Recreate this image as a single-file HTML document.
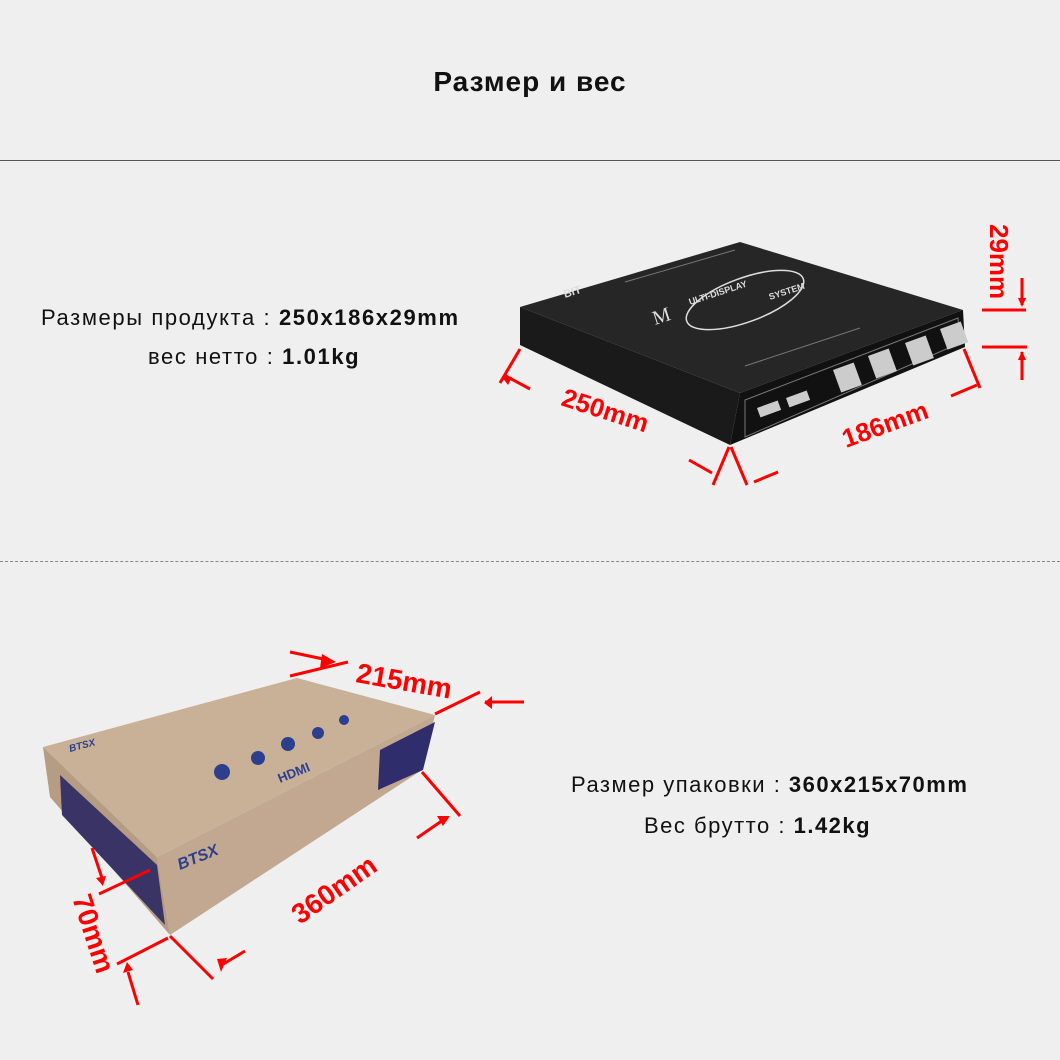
<!DOCTYPE html>
<html><head><meta charset="utf-8"><style>
html,body{margin:0;padding:0;background:#efefef;}
body{width:1060px;height:1060px;position:relative;overflow:hidden;font-family:"Liberation Sans",sans-serif;}
.t{position:absolute;white-space:nowrap;color:#111;}
</style></head><body>
<div class="t" style="left:0;width:1060px;text-align:center;top:66px;font-size:28px;font-weight:bold;letter-spacing:1px;">Размер и вес</div>
<div style="position:absolute;left:0;top:160px;width:1060px;height:1px;background:#555"></div>
<div style="position:absolute;left:0;top:561px;width:1060px;border-top:1px dashed #888"></div>
<div class="t" style="left:41px;top:305px;font-size:22px;letter-spacing:1.6px;">Размеры продукта : <b>250x186x29mm</b></div>
<div class="t" style="left:148px;top:344px;font-size:22px;letter-spacing:1.6px;">вес нетто : <b>1.01kg</b></div>
<div class="t" style="left:571px;top:772px;font-size:22px;letter-spacing:1.5px;">Размер упаковки : <b>360x215x70mm</b></div>
<div class="t" style="left:644px;top:813px;font-size:22px;letter-spacing:1.5px;">Вес брутто : <b>1.42kg</b></div>
<svg width="1060" height="1060" style="position:absolute;left:0;top:0">
<polygon points="520,307 740,242 963,310 740,393" fill="#262626"/>
<polygon points="520,307 740,393 730,445 520,345" fill="#1a1a1a"/>
<polygon points="740,393 963,310 965,347 730,445" fill="#111"/>
<polygon points="745,400 958,318 960,343 745,437" fill="none" stroke="#777" stroke-width="1"/>
<line x1="625" y1="282" x2="735" y2="250" stroke="#777"/>
<line x1="745" y1="366" x2="860" y2="328" stroke="#777"/>
<ellipse cx="745" cy="300" rx="62" ry="22" transform="rotate(-20 745 300)" fill="none" stroke="#ddd" stroke-width="1.5"/>
<text x="655" y="325" font-size="20" fill="#ddd" font-family="Liberation Serif" transform="rotate(-18 655 325)">M</text>
<text x="690" y="305" font-size="9" font-weight="bold" fill="#ddd" transform="rotate(-18 690 305)">ULTI-DISPLAY</text>
<text x="770" y="300" font-size="9" font-weight="bold" fill="#ddd" transform="rotate(-18 770 300)">SYSTEM</text>
<text x="565" y="298" font-size="11" font-weight="bold" fill="#ddd" transform="rotate(-18 565 298)">BIT</text>
<g fill="#ccc"><rect x="757" y="408" width="22" height="10" transform="rotate(-20 757 408)"/><rect x="786" y="398" width="22" height="10" transform="rotate(-20 786 398)"/>
<rect x="833" y="370" width="22" height="24" transform="rotate(-20 833 370)"/><rect x="868" y="356" width="22" height="24" transform="rotate(-20 868 356)"/><rect x="905" y="343" width="22" height="24" transform="rotate(-20 905 343)"/><rect x="940" y="329" width="22" height="22" transform="rotate(-20 940 329)"/></g>
<g stroke="#f00" stroke-width="3" fill="none">
<line x1="520" y1="349" x2="500" y2="383"/><line x1="504" y1="375" x2="530" y2="389"/>
<line x1="729" y1="447" x2="713" y2="485"/><line x1="689" y1="460" x2="712" y2="473"/>
<line x1="731" y1="447" x2="747" y2="485"/><line x1="778" y1="472" x2="754" y2="482"/>
<line x1="964" y1="349" x2="980" y2="388"/><line x1="951" y1="396" x2="977" y2="385"/>
<line x1="982" y1="310" x2="1026" y2="310"/><line x1="982" y1="347" x2="1027" y2="347"/>
<line x1="1022" y1="278" x2="1022" y2="305"/><line x1="1022" y1="352" x2="1022" y2="380"/>
</g>
<g fill="#f00"><polygon points="502,377 512,377 508,385"/><polygon points="1018,298 1026,298 1022,307"/><polygon points="1018,360 1026,360 1022,351"/></g>
<g fill="#f00" font-size="26" font-weight="bold">
<text x="560" y="405" transform="rotate(18 560 405)">250mm</text>
<text x="846" y="448" transform="rotate(-20 846 448)">186mm</text>
<text x="990" y="224" transform="rotate(90 990 224)">29mm</text>
</g>
<polygon points="43,747 297,678 435,715 157,857" fill="#c9b198"/>
<polygon points="43,747 157,857 170,935 50,797" fill="#b59c83"/>
<polygon points="60,775 157,865 165,925 62,815" fill="#3a3366"/>
<polygon points="157,857 435,715 422,770 170,935" fill="#c2a890"/>
<polygon points="380,750 435,722 423,770 378,790" fill="#2f2d6b"/>
<g fill="#2c3f8e"><circle cx="222" cy="772" r="8"/><circle cx="258" cy="758" r="7"/><circle cx="288" cy="744" r="7"/><circle cx="318" cy="733" r="6"/><circle cx="344" cy="720" r="5"/></g>
<text x="280" y="783" font-size="13" font-weight="bold" fill="#2c3f8e" transform="rotate(-22 280 783)">HDMI</text>
<text x="180" y="870" font-size="16" font-weight="bold" font-style="italic" fill="#2c3f8e" transform="rotate(-22 180 870)">BTSX</text>
<text x="70" y="752" font-size="10" font-weight="bold" font-style="italic" fill="#2c3f8e" transform="rotate(-15 70 752)">BTSX</text>
<g stroke="#f00" stroke-width="3" fill="none">
<line x1="290" y1="676" x2="348" y2="662"/><line x1="290" y1="652" x2="328" y2="660"/>
<line x1="435" y1="714" x2="480" y2="692"/><line x1="485" y1="702" x2="524" y2="702"/>
<line x1="422" y1="772" x2="460" y2="816"/><line x1="417" y1="838" x2="446" y2="818"/>
<line x1="170" y1="936" x2="213" y2="979"/><line x1="245" y1="951" x2="220" y2="966"/>
<line x1="168" y1="938" x2="117" y2="964"/><line x1="138" y1="1005" x2="128" y2="972"/>
<line x1="150" y1="870" x2="99" y2="894"/><line x1="92" y1="848" x2="102" y2="878"/>
</g>
<g fill="#f00"><polygon points="322,654 336,662 320,668"/><polygon points="492,696 484,703 492,709"/><polygon points="437,816 450,816 443,826"/><polygon points="217,959 221,972 227,958"/><polygon points="123,973 133,970 127,962"/><polygon points="96,878 106,876 103,886"/></g>
<g fill="#f00" font-size="28" font-weight="bold">
<text x="355" y="682" transform="rotate(10 355 682)">215mm</text>
<text x="300" y="925" transform="rotate(-35 300 925)">360mm</text>
<text x="72" y="898" transform="rotate(72 72 898)">70mm</text>
</g>
</svg>
</body></html>
